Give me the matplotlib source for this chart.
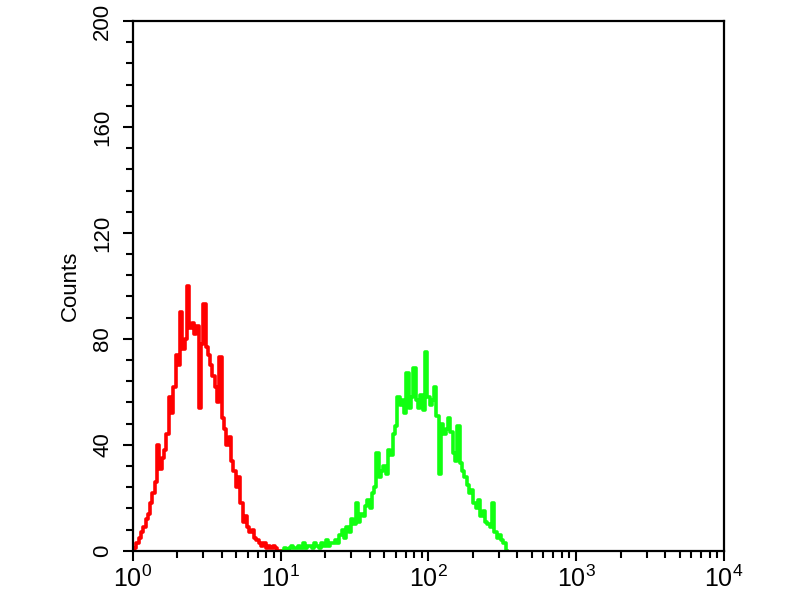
import numpy as np
import matplotlib
matplotlib.use("Agg")
import matplotlib.pyplot as plt
from matplotlib.ticker import MultipleLocator, LogLocator, NullFormatter, FixedFormatter

# Histogram channels: 64 channels per decade, channel i centred at 10**(i/64)
chan_per_decade = 64

red_start = 0
red_counts = [0, 1, 3, 5, 7, 9, 12, 14, 18, 22, 26, 40, 31, 35, 38, 44, 58, 52, 62, 74,
              70, 90, 76, 80, 100, 84, 86, 82, 85, 54, 78, 93, 77, 74, 70, 66, 62, 56, 73, 50,
              46, 40, 43, 34, 30, 24, 28, 18, 11, 13, 9, 7, 8, 5, 4, 3, 2, 3, 1, 2,
              1, 2, 1, 0, 0]

green_start = 65
green_counts = [0, 1, 0, 1, 2, 1, 1, 2, 1, 3, 1, 2, 2, 1, 3, 2, 1, 3, 2, 4, 2, 3, 3,
                4, 3, 6, 8, 5, 9, 7, 12, 10, 18, 11, 14, 13, 17, 19, 16, 22, 24, 37, 28, 30,
                32, 29, 38, 36, 44, 47, 58, 55, 57, 52, 67, 54, 58, 69, 57, 54, 59, 53, 75,
                58, 55, 57, 62, 51, 29, 48, 44, 46, 50, 45, 37, 34, 47, 33, 30, 28, 25, 22,
                23, 18, 16, 19, 13, 15, 11, 10, 9, 18, 7, 5, 6, 4, 3, 0]

y_ticks = [0, 40, 80, 120, 160, 200]
x_ticks = [1, 10, 100, 1000, 10000]
x_tick_labels = [r"$10^{0}$", r"$10^{1}$", r"$10^{2}$", r"$10^{3}$", r"$10^{4}$"]
y_label = "Counts"

plt.rcParams['font.family'] = ['Liberation Sans', 'DejaVu Sans']
plt.rcParams['mathtext.fontset'] = 'custom'
plt.rcParams['mathtext.rm'] = 'Liberation Sans'
plt.rcParams['mathtext.it'] = 'Liberation Sans'
plt.rcParams['mathtext.default'] = 'regular'

fig = plt.figure(figsize=(8, 6), dpi=100)
ax = fig.add_axes([0.166, 0.082, 0.739, 0.883])

def chan_x(start, n):
    return 10 ** ((start + np.arange(n)) / chan_per_decade)

xr = chan_x(red_start, len(red_counts))
xg = chan_x(green_start, len(green_counts))
ax.step(xr, red_counts, where='mid', color='#ff0000', lw=2.6)
ax.step(xg, green_counts, where='mid', color='#11ff11', lw=2.6)

ax.set_xscale('log')
ax.set_xlim(1, 10000)
ax.set_ylim(0, 200)
ax.set_xticks(x_ticks)
ax.xaxis.set_major_formatter(FixedFormatter(x_tick_labels))
ax.xaxis.set_minor_locator(LogLocator(base=10, subs=np.arange(2, 10)))
ax.xaxis.set_minor_formatter(NullFormatter())
ax.set_yticks(y_ticks)
ax.yaxis.set_minor_locator(MultipleLocator(8))
for lab in ax.get_yticklabels():
    lab.set_rotation(90)
    lab.set_va('center')

ax.tick_params(axis='both', which='major', direction='out', length=7, width=1.5,
               color='black')
ax.tick_params(axis='x', which='major', labelsize=18, pad=4)
ax.tick_params(axis='y', which='major', labelsize=16, pad=7)
ax.tick_params(axis='both', which='minor', direction='out', length=5, width=1.5)
for s in ax.spines.values():
    s.set_linewidth(1.6)
ax.set_ylabel(y_label, fontsize=16, labelpad=8)

fig.savefig("out.png", dpi=100)
